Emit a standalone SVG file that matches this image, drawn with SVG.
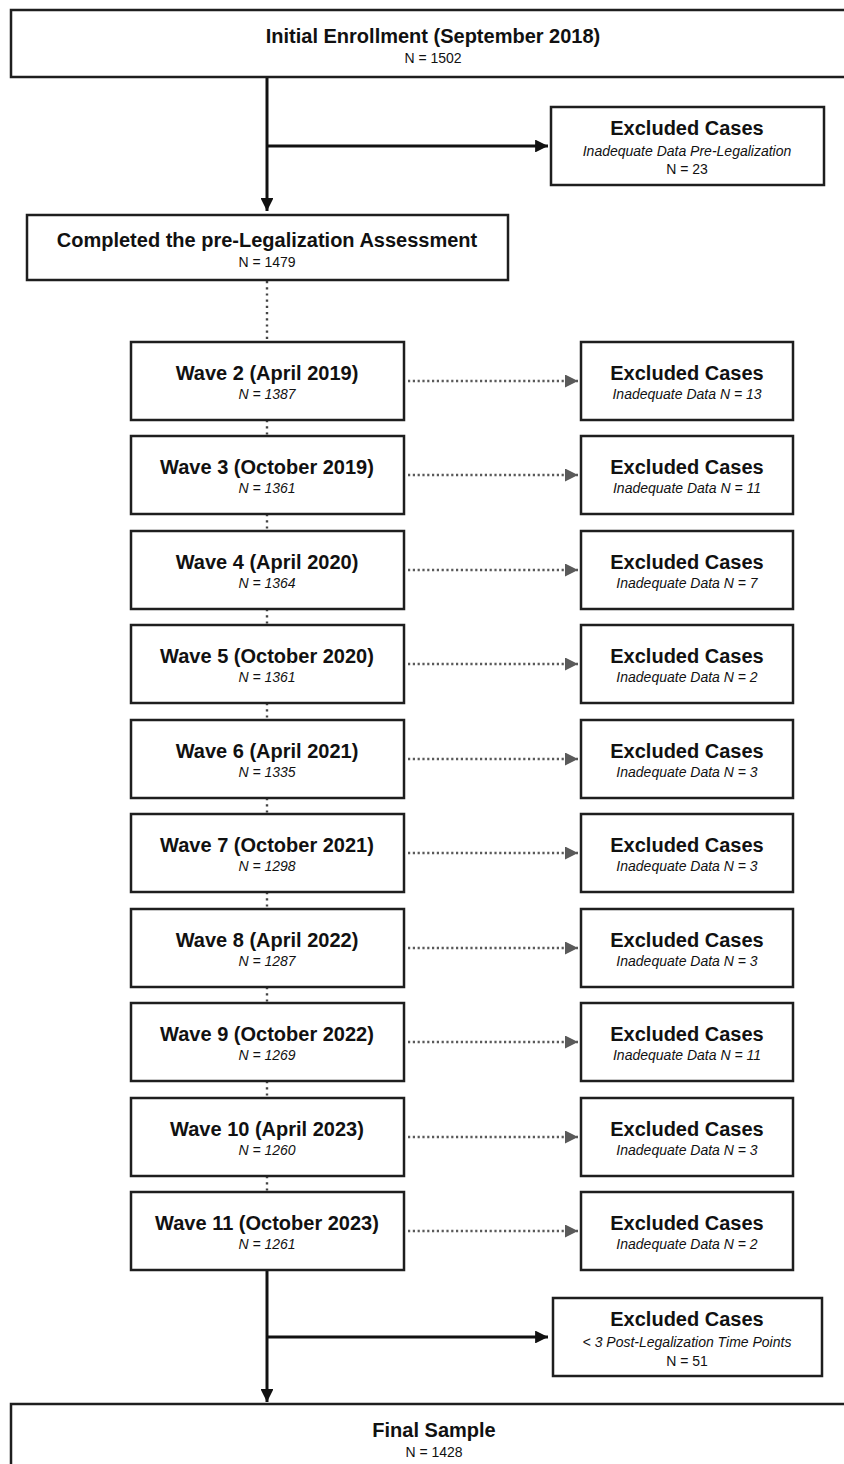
<svg xmlns="http://www.w3.org/2000/svg" width="844" height="1464" viewBox="0 0 844 1464">
<style>
.box{fill:#fff;stroke:#1e1e1e;stroke-width:2.5}
.t{font-family:"Liberation Sans",Arial,sans-serif;font-weight:bold;font-size:20px;fill:#111;text-anchor:middle}
.n{font-family:"Liberation Sans",Arial,sans-serif;font-size:14px;fill:#111;text-anchor:middle}
.i{font-family:"Liberation Sans",Arial,sans-serif;font-style:italic;font-size:14px;fill:#111;text-anchor:middle}
.solid{stroke:#111;stroke-width:3;fill:none}
.dot{stroke:#5a5a5a;stroke-width:2.6;stroke-dasharray:2.2 2.6;fill:none}
.vdot{stroke:#444;stroke-width:2.4;stroke-dasharray:2.2 4;fill:none}
</style>
<defs>
<marker id="ah" viewBox="0 0 10 10" refX="10" refY="5" markerWidth="4.3" markerHeight="4.3" markerUnits="strokeWidth" orient="auto"><path d="M0,0 L10,5 L0,10 z" fill="#111"/></marker>
<marker id="ag" viewBox="0 0 10 10" refX="10" refY="5" markerWidth="5" markerHeight="5" markerUnits="strokeWidth" orient="auto"><path d="M0,0 L10,5 L0,10 z" fill="#5a5a5a"/></marker>
</defs>
<g id="connectors">
<path class="solid" d="M267,78 V211" marker-end="url(#ah)"/>
<path class="solid" d="M267,146 H548" marker-end="url(#ah)"/>
<path class="vdot" d="M267,281 V342"/>
<path class="vdot" d="M267,420 V436"/>
<path class="vdot" d="M267,514 V531"/>
<path class="vdot" d="M267,609 V625"/>
<path class="vdot" d="M267,703 V720"/>
<path class="vdot" d="M267,798 V814"/>
<path class="vdot" d="M267,892 V909"/>
<path class="vdot" d="M267,987 V1003"/>
<path class="vdot" d="M267,1081 V1098"/>
<path class="vdot" d="M267,1176 V1192"/>
<path class="dot" d="M408,381 H578" marker-end="url(#ag)"/>
<path class="dot" d="M408,475 H578" marker-end="url(#ag)"/>
<path class="dot" d="M408,570 H578" marker-end="url(#ag)"/>
<path class="dot" d="M408,664 H578" marker-end="url(#ag)"/>
<path class="dot" d="M408,759 H578" marker-end="url(#ag)"/>
<path class="dot" d="M408,853 H578" marker-end="url(#ag)"/>
<path class="dot" d="M408,948 H578" marker-end="url(#ag)"/>
<path class="dot" d="M408,1042 H578" marker-end="url(#ag)"/>
<path class="dot" d="M408,1137 H578" marker-end="url(#ag)"/>
<path class="dot" d="M408,1231 H578" marker-end="url(#ag)"/>
<path class="solid" d="M267,1271 V1402" marker-end="url(#ah)"/>
<path class="solid" d="M267,1337 H548" marker-end="url(#ah)"/>
</g>
<g id="initial"><rect class="box" x="11" y="10" width="844" height="67"/><text class="t" x="433" y="43">Initial Enrollment (September 2018)</text><text class="n" x="433" y="63">N = 1502</text></g>
<g id="excl-pre"><rect class="box" x="551" y="107" width="273" height="78"/><text class="t" x="687" y="135">Excluded Cases</text><text class="i" x="687" y="156">Inadequate Data Pre-Legalization</text><text class="n" x="687" y="174">N = 23</text></g>
<g id="completed"><rect class="box" x="27" y="215" width="481" height="65"/><text class="t" x="267" y="247">Completed the pre-Legalization Assessment</text><text class="n" x="267" y="267">N = 1479</text></g>
<g id="wave2"><rect class="box" x="131" y="342" width="273" height="78"/><text class="t" x="267" y="380">Wave 2 (April 2019)</text><text class="i" x="267" y="399">N = 1387</text></g>
<g id="excl2"><rect class="box" x="581" y="342" width="212" height="78"/><text class="t" x="687" y="380">Excluded Cases</text><text class="i" x="687" y="399">Inadequate Data N = 13</text></g>
<g id="wave3"><rect class="box" x="131" y="436" width="273" height="78"/><text class="t" x="267" y="474">Wave 3 (October 2019)</text><text class="i" x="267" y="493">N = 1361</text></g>
<g id="excl3"><rect class="box" x="581" y="436" width="212" height="78"/><text class="t" x="687" y="474">Excluded Cases</text><text class="i" x="687" y="493">Inadequate Data N = 11</text></g>
<g id="wave4"><rect class="box" x="131" y="531" width="273" height="78"/><text class="t" x="267" y="569">Wave 4 (April 2020)</text><text class="i" x="267" y="588">N = 1364</text></g>
<g id="excl4"><rect class="box" x="581" y="531" width="212" height="78"/><text class="t" x="687" y="569">Excluded Cases</text><text class="i" x="687" y="588">Inadequate Data N = 7</text></g>
<g id="wave5"><rect class="box" x="131" y="625" width="273" height="78"/><text class="t" x="267" y="663">Wave 5 (October 2020)</text><text class="i" x="267" y="682">N = 1361</text></g>
<g id="excl5"><rect class="box" x="581" y="625" width="212" height="78"/><text class="t" x="687" y="663">Excluded Cases</text><text class="i" x="687" y="682">Inadequate Data N = 2</text></g>
<g id="wave6"><rect class="box" x="131" y="720" width="273" height="78"/><text class="t" x="267" y="758">Wave 6 (April 2021)</text><text class="i" x="267" y="777">N = 1335</text></g>
<g id="excl6"><rect class="box" x="581" y="720" width="212" height="78"/><text class="t" x="687" y="758">Excluded Cases</text><text class="i" x="687" y="777">Inadequate Data N = 3</text></g>
<g id="wave7"><rect class="box" x="131" y="814" width="273" height="78"/><text class="t" x="267" y="852">Wave 7 (October 2021)</text><text class="i" x="267" y="871">N = 1298</text></g>
<g id="excl7"><rect class="box" x="581" y="814" width="212" height="78"/><text class="t" x="687" y="852">Excluded Cases</text><text class="i" x="687" y="871">Inadequate Data N = 3</text></g>
<g id="wave8"><rect class="box" x="131" y="909" width="273" height="78"/><text class="t" x="267" y="947">Wave 8 (April 2022)</text><text class="i" x="267" y="966">N = 1287</text></g>
<g id="excl8"><rect class="box" x="581" y="909" width="212" height="78"/><text class="t" x="687" y="947">Excluded Cases</text><text class="i" x="687" y="966">Inadequate Data N = 3</text></g>
<g id="wave9"><rect class="box" x="131" y="1003" width="273" height="78"/><text class="t" x="267" y="1041">Wave 9 (October 2022)</text><text class="i" x="267" y="1060">N = 1269</text></g>
<g id="excl9"><rect class="box" x="581" y="1003" width="212" height="78"/><text class="t" x="687" y="1041">Excluded Cases</text><text class="i" x="687" y="1060">Inadequate Data N = 11</text></g>
<g id="wave10"><rect class="box" x="131" y="1098" width="273" height="78"/><text class="t" x="267" y="1136">Wave 10 (April 2023)</text><text class="i" x="267" y="1155">N = 1260</text></g>
<g id="excl10"><rect class="box" x="581" y="1098" width="212" height="78"/><text class="t" x="687" y="1136">Excluded Cases</text><text class="i" x="687" y="1155">Inadequate Data N = 3</text></g>
<g id="wave11"><rect class="box" x="131" y="1192" width="273" height="78"/><text class="t" x="267" y="1230">Wave 11 (October 2023)</text><text class="i" x="267" y="1249">N = 1261</text></g>
<g id="excl11"><rect class="box" x="581" y="1192" width="212" height="78"/><text class="t" x="687" y="1230">Excluded Cases</text><text class="i" x="687" y="1249">Inadequate Data N = 2</text></g>
<g id="excl-post"><rect class="box" x="553" y="1298" width="269" height="78"/><text class="t" x="687" y="1326">Excluded Cases</text><text class="i" x="687" y="1347">&lt; 3 Post-Legalization Time Points</text><text class="n" x="687" y="1366">N = 51</text></g>
<g id="final"><rect class="box" x="11" y="1404" width="844" height="80"/><text class="t" x="434" y="1437">Final Sample</text><text class="n" x="434" y="1457">N = 1428</text></g>
</svg>
